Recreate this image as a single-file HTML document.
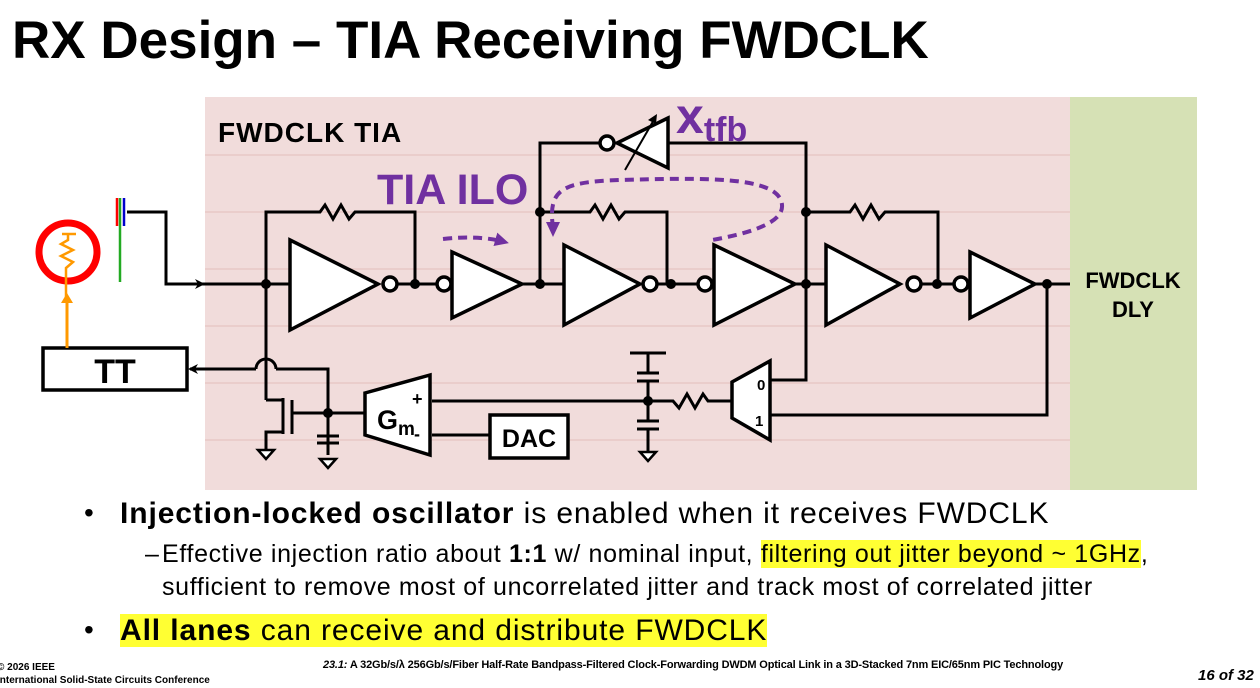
<!DOCTYPE html>
<html><head><meta charset="utf-8"><style>
body{margin:0;width:1260px;height:688px;overflow:hidden;background:#fff;font-family:"Liberation Sans",sans-serif;position:relative}
.t{position:absolute;white-space:nowrap}
.hl{background:#ffff33;}
</style></head><body>
<div class="t" style="left:12px;top:10px;font-size:53px;font-weight:bold;">RX Design – TIA Receiving FWDCLK</div>
<svg width="1260" height="500" style="position:absolute;left:0;top:0" font-family="Liberation Sans, sans-serif">
<defs><marker id="ah" markerWidth="10" markerHeight="10" refX="8" refY="5" orient="auto" markerUnits="userSpaceOnUse"><path d="M0,0 L10,5 L0,10 L3,5z" fill="#000"/></marker>
<marker id="ap" markerWidth="14" markerHeight="14" refX="10" refY="7" orient="auto" markerUnits="userSpaceOnUse"><path d="M0,0 L14,7 L0,14z" fill="#7030a0"/></marker></defs>
<rect x="205" y="97" width="865" height="393" fill="#f1dcdb"/>
<g stroke="#e8c8c6" stroke-width="1.5">
<line x1="205" y1="155" x2="1070" y2="155"/><line x1="205" y1="212" x2="1070" y2="212"/><line x1="205" y1="269" x2="1070" y2="269"/><line x1="205" y1="326" x2="1070" y2="326"/><line x1="205" y1="383" x2="1070" y2="383"/><line x1="205" y1="440" x2="1070" y2="440"/></g>
<rect x="1070" y="97" width="127" height="393" fill="#d6e1b5"/>
<text x="218" y="142" font-size="28" font-weight="bold" letter-spacing="1">FWDCLK TIA</text>
<text x="377" y="204" font-size="43" font-weight="bold" fill="#7030a0">TIA ILO</text>
<text x="676" y="133" font-size="50" font-weight="bold" fill="#7030a0">x<tspan font-size="34" dy="8">tfb</tspan></text>
<text x="1133" y="288" font-size="22" font-weight="bold" text-anchor="middle">FWDCLK</text>
<text x="1133" y="317" font-size="22" font-weight="bold" text-anchor="middle">DLY</text>
<g fill="none" stroke="#000" stroke-width="3">
<polyline points="127,212 166,212 166,284 203,284" marker-end="url(#ah)"/>
<line x1="203" y1="284" x2="290" y2="284"/>
<polyline points="266,400 266,212 320,212 325,205 333,219 341,205 349,219 355,212 415,212 415,284"/>
<line x1="397" y1="284" x2="437" y2="284"/>
<line x1="522" y1="284" x2="564" y2="284"/>
<polyline points="540,284 540,143 600,143"/>
<polyline points="540,212 590,212 595,205 603,219 611,205 619,219 625,212 667,212 667,284"/>
<line x1="657" y1="284" x2="698" y2="284"/>
<line x1="795" y1="284" x2="826" y2="284"/>
<polyline points="668,143 806,143 806,380 770,380"/>
<polyline points="806,212 850,212 855,205 863,219 871,205 879,219 885,212 938,212 938,284"/>
<line x1="921" y1="284" x2="954" y2="284"/>
<polyline points="1035,284 1070,284"/>
<polyline points="1047,284 1047,415 770,415"/>
<polyline points="732,401 708,401 703,394 695,408 687,394 679,408 673,401 432,401"/>
<polyline points="648,353 648,373"/><line x1="630" y1="353" x2="666" y2="353"/>
<line x1="637" y1="373" x2="659" y2="373"/><line x1="637" y1="381" x2="659" y2="381"/>
<line x1="648" y1="381" x2="648" y2="421"/>
<line x1="637" y1="421" x2="659" y2="421"/><line x1="637" y1="429" x2="659" y2="429"/>
<line x1="648" y1="429" x2="648" y2="452"/>
<line x1="432" y1="435" x2="490" y2="435"/>
<line x1="365" y1="413" x2="292" y2="413"/>
<polyline points="328,455 328,369 276,369"/>
<path d="M276,369 A10,10 0 0 0 256,369"/>
<line x1="256" y1="369" x2="190" y2="369" marker-end="url(#ah)"/>
<polyline points="266,400 283,400"/>
<line x1="283" y1="398" x2="283" y2="434"/>
<polyline points="283,432 266,432 266,450"/>
<line x1="292" y1="400" x2="292" y2="434"/>
<line x1="317" y1="436" x2="339" y2="436"/><line x1="317" y1="443" x2="339" y2="443"/>
</g>
<g fill="#fff" stroke="#000" stroke-width="3.5">
<polygon points="290,240 378,284 290,330"/><circle cx="390" cy="284" r="7"/>
<circle cx="444" cy="284" r="7"/><polygon points="452,252 522,284 452,318"/>
<polygon points="564,245 640,284 564,325"/><circle cx="650" cy="284" r="7"/>
<circle cx="705" cy="284" r="7"/><polygon points="714,245 795,284 714,325"/>
<polygon points="826,245 900,284 826,325"/><circle cx="914" cy="284" r="7"/>
<circle cx="961" cy="284" r="7"/><polygon points="970,252 1035,284 970,318"/>
<polygon points="668,118 617,143 668,168"/><circle cx="607" cy="143" r="7"/>
<polygon points="732,382 770,361 770,440 732,418"/>
<polygon points="365,393 430,375 430,455 365,435"/>
<rect x="490" y="415" width="78" height="43"/>
<rect x="43" y="348" width="144" height="42"/>
<path d="M258,450 L274,450 L266,459z M320,459 L336,459 L328,468z M640,452 L656,452 L648,461z" stroke-width="2.5"/>
</g>
<line x1="625" y1="170" x2="655" y2="118" stroke="#000" stroke-width="2"/><path d="M657,114 L648,120 L656,124z" fill="#000"/>
<g fill="#000"><circle cx="266" cy="284" r="5"/><circle cx="415" cy="284" r="5"/><circle cx="540" cy="284" r="5"/><circle cx="540" cy="212" r="5"/><circle cx="671" cy="284" r="5"/><circle cx="806" cy="284" r="5"/><circle cx="806" cy="212" r="5"/><circle cx="937" cy="284" r="5"/><circle cx="1047" cy="284" r="5"/><circle cx="648" cy="401" r="5"/><circle cx="328" cy="413" r="5"/></g>
<text x="757" y="390" font-size="15" font-weight="bold">0</text>
<text x="755" y="426" font-size="15" font-weight="bold">1</text>
<text x="377" y="429" font-size="27" font-weight="bold">G<tspan font-size="19" dy="6">m</tspan></text>
<text x="412" y="405" font-size="18" font-weight="bold">+</text>
<text x="414" y="440" font-size="18" font-weight="bold">-</text>
<text x="529" y="447" font-size="25" font-weight="bold" text-anchor="middle">DAC</text>
<text x="115" y="383" font-size="34" font-weight="bold" text-anchor="middle">TT</text>
<g fill="none" stroke="#7030a0" stroke-width="4" stroke-dasharray="9,6">
<path d="M443,239 Q480,235 505,242" marker-end="url(#ap)"/>
<path d="M553,228 C548,190 560,182 620,180 C700,178 780,175 782,205 C784,225 740,235 712,240"/>
</g>
<path d="M546,222 L560,222 L553,237z" fill="#7030a0"/>
<circle cx="68" cy="252" r="29" fill="none" stroke="#f00" stroke-width="7"/>
<line x1="62" y1="234" x2="76" y2="234" stroke="#f90" stroke-width="2.5"/>
<polyline points="68,234 68,240 61,244 73,250 61,256 73,262 66,268 66,300" fill="none" stroke="#f90" stroke-width="2.5"/>
<line x1="67" y1="348" x2="67" y2="300" stroke="#f90" stroke-width="3"/><path d="M61,303 L67,293 L73,303z" fill="#f90"/>
<line x1="120" y1="198" x2="120" y2="282" stroke="#2a2" stroke-width="2.5"/>
<line x1="117" y1="198" x2="117" y2="226" stroke="#f00" stroke-width="2.5"/>
<line x1="124" y1="198" x2="124" y2="226" stroke="#00c" stroke-width="2.5"/>
</svg>
<div class="t" style="left:84px;top:497px;font-size:28px;">•</div>
<div class="t" style="left:120px;top:497px;font-size:30px;letter-spacing:0.9px;"><b>Injection-locked oscillator</b> is enabled when it receives FWDCLK</div>
<div class="t" style="left:145px;top:540px;font-size:25px;">–</div>
<div class="t" style="left:162px;top:540px;font-size:25px;letter-spacing:0.65px;">Effective injection ratio about <b>1:1</b> w/ nominal input, <span class="hl">filtering out jitter beyond ~ 1GHz</span>,</div>
<div class="t" style="left:162px;top:573px;font-size:25px;letter-spacing:0.65px;">sufficient to remove most of uncorrelated jitter and track most of correlated jitter</div>
<div class="t" style="left:84px;top:614px;font-size:28px;">•</div>
<div class="t" style="left:120px;top:614px;font-size:30px;letter-spacing:0.9px;"><span class="hl"><b>All lanes</b> can receive and distribute FWDCLK</span></div>
<div class="t" style="left:-3px;top:662px;font-size:10px;font-weight:bold;">© 2026 IEEE</div>
<div class="t" style="left:-3px;top:675px;font-size:10px;font-weight:bold;">International Solid-State Circuits Conference</div>
<div class="t" style="left:323px;top:659px;font-size:11px;font-weight:bold;letter-spacing:-0.15px;"><i>23.1:</i> A 32Gb/s/λ 256Gb/s/Fiber Half-Rate Bandpass-Filtered Clock-Forwarding DWDM Optical Link in a 3D-Stacked 7nm EIC/65nm PIC Technology</div>
<div class="t" style="left:1198px;top:667px;font-size:15px;font-weight:bold;font-style:italic;">16 of 32</div>
</body></html>
